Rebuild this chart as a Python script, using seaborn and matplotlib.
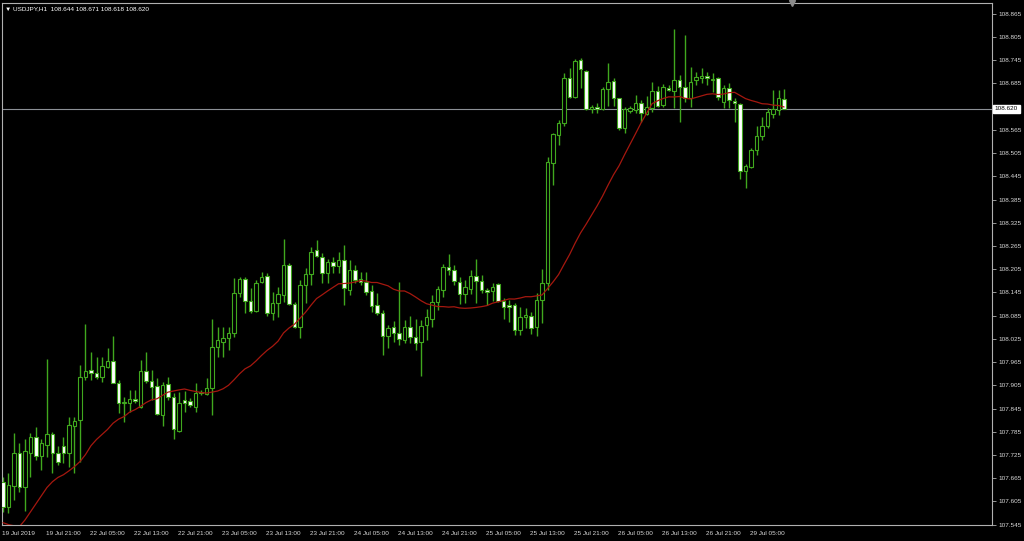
import numpy as np
import pandas as pd
import matplotlib
matplotlib.use('Agg')
import matplotlib.pyplot as plt
import matplotlib.transforms as mtransforms
import seaborn as sns

# ------------------------------------------------------------
# Data: USDJPY H1 candles, 19 Jul 2019 13:00 -> 29 Jul 2019 11:00
# ------------------------------------------------------------
symbol = 'USDJPY,H1'

opens = [
    107.654, 107.591, 107.646, 107.729, 107.643, 107.731, 107.772, 107.723, 107.752, 107.778,
    107.729, 107.749, 107.731, 107.801, 107.816, 107.927, 107.945, 107.937, 107.927, 107.953,
    107.968, 107.912, 107.858, 107.860, 107.870, 107.850, 107.943, 107.917, 107.904, 107.829,
    107.909, 107.875, 107.788, 107.868, 107.865, 107.850, 107.889, 107.883, 107.899, 108.005,
    108.018, 108.028, 108.041, 108.144, 108.180, 108.123, 108.098, 108.172, 108.188, 108.092,
    108.118, 108.139, 108.216, 108.116, 108.056, 108.164, 108.193, 108.255, 108.237, 108.195,
    108.224, 108.214, 108.229, 108.152, 108.203, 108.180, 108.172, 108.149, 108.113, 108.092,
    108.033, 108.056, 108.041, 108.023, 108.056, 108.030, 108.018, 108.061, 108.077, 108.121,
    108.152, 108.211, 108.203, 108.172, 108.141, 108.154, 108.188, 108.175, 108.152, 108.149,
    108.167, 108.123, 108.113, 108.113, 108.049, 108.082, 108.085, 108.056, 108.126, 108.170,
    108.480, 108.552, 108.584, 108.700, 108.650, 108.746, 108.718, 108.620, 108.625, 108.620,
    108.671, 108.692, 108.648, 108.569, 108.615, 108.617, 108.635, 108.607, 108.622, 108.666,
    108.630, 108.674, 108.666, 108.694, 108.676, 108.648, 108.694, 108.700, 108.705, 108.694,
    108.700, 108.638, 108.674, 108.640, 108.633, 108.460, 108.470, 108.514, 108.548, 108.574,
    108.607, 108.617, 108.644,
]

highs = [
    107.667, 107.679, 107.783, 107.757, 107.767, 107.783, 107.796, 107.767, 107.974, 107.785,
    107.747, 107.772, 107.824, 107.824, 107.958, 108.064, 107.992, 107.979, 107.979, 108.002,
    108.033, 107.919, 107.875, 107.894, 107.894, 107.971, 107.992, 107.945, 107.924, 107.914,
    107.927, 107.886, 107.888, 107.891, 107.873, 107.912, 107.894, 107.924, 108.077, 108.056,
    108.056, 108.056, 108.183, 108.185, 108.185, 108.157, 108.177, 108.198, 108.196, 108.146,
    108.159, 108.283, 108.221, 108.121, 108.177, 108.208, 108.263, 108.280, 108.247, 108.232,
    108.237, 108.250, 108.268, 108.229, 108.216, 108.198, 108.198, 108.164, 108.144, 108.100,
    108.061, 108.072, 108.172, 108.074, 108.085, 108.077, 108.074, 108.103, 108.139, 108.162,
    108.219, 108.245, 108.216, 108.185, 108.177, 108.203, 108.232, 108.190, 108.157, 108.170,
    108.170, 108.131, 108.126, 108.118, 108.108, 108.105, 108.095, 108.144, 108.206, 108.496,
    108.558, 108.591, 108.712, 108.725, 108.749, 108.751, 108.720, 108.630, 108.635, 108.676,
    108.738, 108.700, 108.648, 108.625, 108.628, 108.656, 108.643, 108.653, 108.689, 108.679,
    108.684, 108.681, 108.826, 108.707, 108.811, 108.728, 108.715, 108.725, 108.715, 108.712,
    108.702, 108.681, 108.687, 108.648, 108.635, 108.478, 108.519, 108.574, 108.599, 108.622,
    108.669, 108.669, 108.671,
]

lows = [
    107.578, 107.575, 107.609, 107.630, 107.581, 107.669, 107.713, 107.687, 107.721, 107.679,
    107.698, 107.705, 107.695, 107.679, 107.708, 107.919, 107.919, 107.922, 107.914, 107.950,
    107.912, 107.834, 107.811, 107.837, 107.860, 107.847, 107.912, 107.868, 107.829, 107.801,
    107.868, 107.767, 107.785, 107.837, 107.850, 107.837, 107.881, 107.881, 107.829, 107.979,
    107.979, 107.997, 108.031, 108.133, 108.092, 108.092, 108.095, 108.170, 108.085, 108.074,
    108.082, 108.121, 108.113, 108.054, 108.028, 108.118, 108.164, 108.237, 108.170, 108.170,
    108.195, 108.195, 108.113, 108.139, 108.170, 108.164, 108.139, 108.095, 108.087, 107.984,
    108.002, 108.018, 108.010, 108.015, 108.015, 107.997, 107.930, 108.023, 108.056, 108.100,
    108.133, 108.190, 108.164, 108.116, 108.118, 108.141, 108.118, 108.144, 108.113, 108.123,
    108.121, 108.077, 108.069, 108.036, 108.036, 108.054, 108.038, 108.033, 108.067, 108.152,
    108.423, 108.527, 108.574, 108.648, 108.648, 108.674, 108.617, 108.609, 108.609, 108.617,
    108.628, 108.628, 108.566, 108.558, 108.609, 108.609, 108.586, 108.604, 108.612, 108.625,
    108.625, 108.666, 108.622, 108.586, 108.638, 108.625, 108.681, 108.687, 108.681, 108.663,
    108.643, 108.622, 108.622, 108.586, 108.439, 108.416, 108.467, 108.501, 108.540, 108.571,
    108.597, 108.604, 108.618,
]

closes = [
    107.591, 107.648, 107.729, 107.643, 107.734, 107.772, 107.723, 107.757, 107.778, 107.729,
    107.708, 107.731, 107.803, 107.814, 107.927, 107.943, 107.937, 107.927, 107.956, 107.968,
    107.912, 107.858, 107.863, 107.870, 107.865, 107.943, 107.917, 107.901, 107.832, 107.906,
    107.875, 107.791, 107.858, 107.860, 107.855, 107.886, 107.884, 107.899, 108.005, 108.023,
    108.028, 108.041, 108.144, 108.180, 108.123, 108.098, 108.170, 108.185, 108.092, 108.118,
    108.141, 108.216, 108.116, 108.056, 108.164, 108.193, 108.250, 108.240, 108.195, 108.224,
    108.214, 108.229, 108.157, 108.203, 108.177, 108.172, 108.146, 108.111, 108.092, 108.033,
    108.054, 108.041, 108.025, 108.056, 108.030, 108.015, 108.059, 108.082, 108.121, 108.154,
    108.211, 108.203, 108.175, 108.141, 108.159, 108.188, 108.175, 108.152, 108.146, 108.159,
    108.123, 108.108, 108.108, 108.049, 108.082, 108.087, 108.054, 108.126, 108.170, 108.483,
    108.555, 108.584, 108.700, 108.650, 108.743, 108.723, 108.620, 108.625, 108.620, 108.671,
    108.689, 108.648, 108.569, 108.620, 108.622, 108.635, 108.609, 108.625, 108.666, 108.628,
    108.676, 108.669, 108.694, 108.676, 108.648, 108.689, 108.702, 108.705, 108.700, 108.697,
    108.650, 108.674, 108.643, 108.635, 108.460, 108.472, 108.514, 108.548, 108.574, 108.612,
    108.620, 108.648, 108.620,
]

# Moving average (20) - first 19 values come from history before the window,
# read off the chart; the rest is the rolling mean of the closes above
ma_period = 20
ma_head = [
    107.550, 107.545, 107.542, 107.540, 107.557, 107.578, 107.599, 107.620, 107.641, 107.656,
    107.667, 107.674, 107.684, 107.695, 107.708, 107.726, 107.749, 107.765, 107.778,
]

x_tick_labels = [
    '19 Jul 2019', '19 Jul 21:00', '22 Jul 05:00', '22 Jul 13:00', '22 Jul 21:00',
    '23 Jul 05:00', '23 Jul 13:00', '23 Jul 21:00', '24 Jul 05:00', '24 Jul 13:00',
    '24 Jul 21:00', '25 Jul 05:00', '25 Jul 13:00', '25 Jul 21:00', '26 Jul 05:00',
    '26 Jul 13:00', '26 Jul 21:00', '29 Jul 05:00',
]
bars_per_tick = 8

y_tick_first = 107.545
y_tick_step = 0.06
y_tick_count = 23

# ------------------------------------------------------------
# Frame
# ------------------------------------------------------------
df = pd.DataFrame({'open': opens, 'high': highs, 'low': lows, 'close': closes})
df['bar'] = np.arange(len(df))
df['ma'] = df['close'].rolling(ma_period).mean()
df.loc[:len(ma_head) - 1, 'ma'] = ma_head
df['bull'] = df['close'] >= df['open']

last = df.iloc[-1]

# ------------------------------------------------------------
# Style (MT4 "green on black")
# ------------------------------------------------------------
sns.set_style('dark')
plt.rcParams['font.family'] = ['Liberation Sans', 'DejaVu Sans']

BG = 'black'
CANDLE = '#40a81e'
BEAR_BODY = 'white'
MA_COLOR = '#a5180f'
FRAME = '#b0b0b0'
TEXT = '#d8d8d8'
FS = 4.6

fig = plt.figure(figsize=(10.24, 5.41), dpi=100, facecolor=BG)
ax = fig.add_axes([2 / 1024, 16 / 541, 990 / 1024, 522 / 541])
ax.set_facecolor(BG)

# wicks
ax.vlines(df['bar'], df['low'], df['high'], color=CANDLE, linewidth=1.0, zorder=2)

# bodies
body_bottom = np.minimum(df['open'], df['close'])
body_height = np.maximum(np.abs(df['close'] - df['open']), 0.0015)
face = np.where(df['bull'], BG, BEAR_BODY)
ax.bar(df['bar'], body_height, bottom=body_bottom, width=0.62,
       color=face, edgecolor=CANDLE, linewidth=0.8, zorder=3)

# moving average
sns.lineplot(data=df, x='bar', y='ma', color=MA_COLOR, linewidth=0.9, ax=ax, zorder=4)

# current bid line
ax.axhline(last['close'], color='#8c9096', linewidth=0.8, zorder=1)

ax.set_xlim(-0.18, 179.8)
ax.set_ylim(107.544, 108.893)

# axes / ticks
for side in ['top', 'right', 'bottom', 'left']:
    ax.spines[side].set_visible(True)
    ax.spines[side].set_color(FRAME)
    ax.spines[side].set_linewidth(0.8)

y_ticks = np.round(y_tick_first + y_tick_step * np.arange(y_tick_count), 3)
# the bid tag sits on top of the nearest scale label, as in the terminal
y_labels = ['' if abs(v - last['close']) < y_tick_step / 3 else f'{v:.3f}' for v in y_ticks]
ax.yaxis.tick_right()
ax.set_yticks(y_ticks)
ax.set_yticklabels(y_labels)
ax.tick_params(axis='y', direction='out', length=3, width=0.6, color=FRAME,
               labelcolor=TEXT, labelsize=FS, pad=2)

x_ticks = np.arange(len(x_tick_labels)) * bars_per_tick
ax.set_xticks(x_ticks)
ax.set_xticklabels(x_tick_labels, ha='left')
ax.tick_params(axis='x', direction='out', length=3, width=0.6, color=FRAME,
               labelcolor=TEXT, labelsize=FS, pad=1.5)
offset = mtransforms.ScaledTranslation(-1 / 100, 0, fig.dpi_scale_trans)
for lbl in ax.get_xticklabels():
    lbl.set_transform(lbl.get_transform() + offset)

ax.grid(False)
ax.set_xlabel('')
ax.set_ylabel('')

# bid price tag on the price scale
ytr = mtransforms.blended_transform_factory(ax.transAxes, ax.transData)
ax.text(1.003, last['close'], f"{last['close']:.3f}", transform=ytr,
        ha='left', va='center', fontsize=FS, color='black', zorder=6,
        bbox=dict(boxstyle='square,pad=0.25', facecolor='white', edgecolor='white'),
        clip_on=False)

# chart shift marker
ax.plot([143.5], [1.0], marker='v', color='#8a8a8a', markersize=5,
        transform=mtransforms.blended_transform_factory(ax.transData, ax.transAxes),
        clip_on=False, zorder=6)

# header
header = (f"\u25BC {symbol}  {last['open']:.3f} {last['high']:.3f} "
          f"{last['low']:.3f} {last['close']:.3f}")
fig.text(5 / 1024, 1 - 9 / 541, header, fontsize=FS, color='white',
         ha='left', va='center', family=['Liberation Sans', 'DejaVu Sans'])

fig.savefig('out.png', dpi=100, facecolor=BG)
